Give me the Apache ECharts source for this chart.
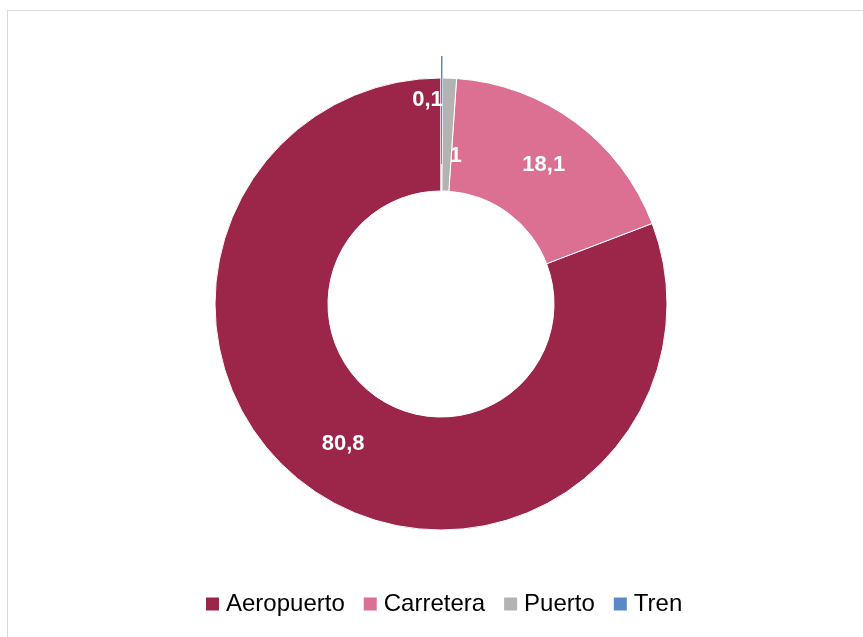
<!DOCTYPE html>
<html>
<head>
<meta charset="utf-8">
<script src="https://cdn.jsdelivr.net/npm/echarts@6/dist/echarts.min.js"></script>
<style>
html,body{margin:0;padding:0;background:#fff;}
#frame{position:absolute;left:7px;top:10px;width:900px;height:700px;border:1px solid #d9d9d9;box-sizing:border-box;}
#chart{position:absolute;left:0;top:0;width:863px;height:637px;}
</style>
</head>
<body>
<div id="frame"></div>
<div id="chart"></div>
<script>
const categories = ["Aeropuerto", "Carretera", "Puerto", "Tren"];
const values = [80.8, 18.1, 1, 0.1];
const labels = ["80,8", "18,1", "1", "0,1"];
const colors = ["#9B2649", "#DC7093", "#B3B3B3", "#5A8AC6"];
const labelOffsets = [[0, -2], [0, 0], [8, 24], [-14, -32]];

const chart = echarts.init(document.getElementById('chart'), null, {renderer: 'canvas'});
const mainData = categories.map((c, i) => ({
  name: c,
  value: values[i],
  itemStyle: {color: colors[i]},
  label: {formatter: labels[i], offset: labelOffsets[i]}
}));
const overlayData = categories.map((c, i) => ({
  name: c,
  value: values[i],
  itemStyle: {color: c === "Tren" ? colors[i] : 'rgba(0,0,0,0)', borderWidth: 0}
}));

chart.setOption({
  animation: false,
  legend: {
    bottom: 16,
    left: 199,
    itemWidth: 15,
    itemHeight: 15,
    itemGap: 17,
    icon: 'rect',
    textStyle: {fontFamily: 'Liberation Sans, Arial, sans-serif', fontSize: 24, color: '#000', padding: [0, 0, 0, 1]},
    data: categories
  },
  series: [
    {
      type: 'pie',
      center: [441, 304],
      radius: [113, 226],
      startAngle: 90,
      clockwise: false,
      avoidLabelOverlap: false,
      itemStyle: {borderColor: '#fff', borderWidth: 1},
      label: {
        show: true,
        position: 'inside',
        color: '#fff',
        fontWeight: 'bold',
        fontSize: 22,
        fontFamily: 'Liberation Sans, Arial, sans-serif'
      },
      labelLine: {show: false},
      emphasis: {disabled: true},
      data: mainData
    },
    {
      type: 'pie',
      center: [441, 304],
      radius: [140, 248],
      startAngle: 90,
      clockwise: false,
      silent: true,
      label: {show: false},
      labelLine: {show: false},
      emphasis: {disabled: true},
      legendHoverLink: false,
      data: overlayData
    }
  ]
});
</script>
</body>
</html>
